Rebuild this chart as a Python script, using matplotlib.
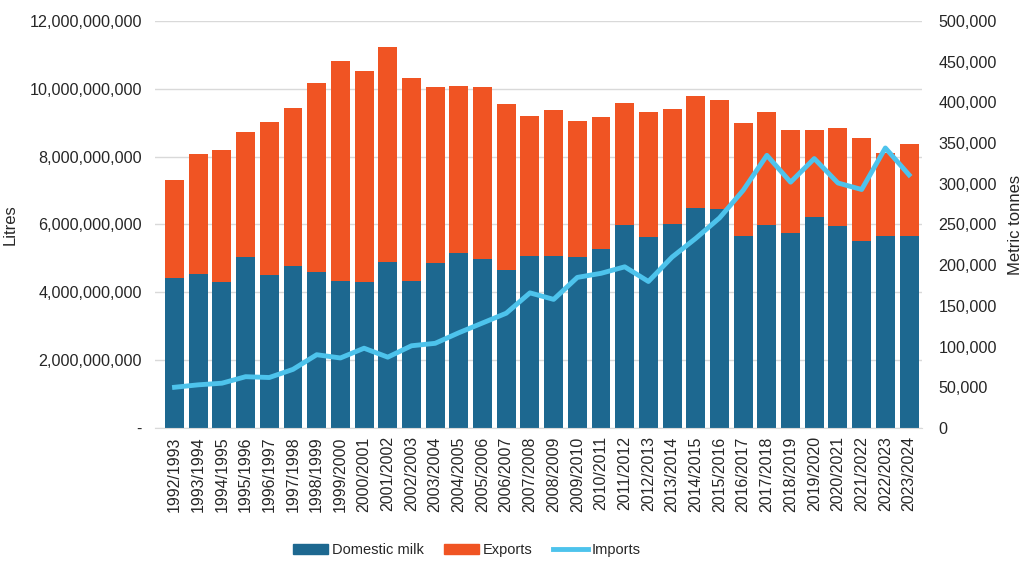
import matplotlib
matplotlib.use("Agg")
import matplotlib.pyplot as plt
from matplotlib.ticker import FuncFormatter
from matplotlib.patches import Patch
from matplotlib.lines import Line2D

plt.rcParams['font.family'] = ['Liberation Sans', 'DejaVu Sans']

# seasons
seasons = [f"{y}/{y + 1}" for y in range(1992, 2024)]

# litres (bars, left axis)
domestic = [4.42e9, 4.54e9, 4.31e9, 5.04e9, 4.51e9, 4.78e9, 4.60e9, 4.34e9,
            4.31e9, 4.90e9, 4.34e9, 4.87e9, 5.16e9, 4.99e9, 4.66e9, 5.07e9,
            5.07e9, 5.04e9, 5.28e9, 5.99e9, 5.63e9, 6.02e9, 6.49e9, 6.46e9,
            5.66e9, 5.99e9, 5.75e9, 6.22e9, 5.96e9, 5.50e9, 5.66e9, 5.66e9]
total = [7.32e9, 8.08e9, 8.20e9, 8.73e9, 9.03e9, 9.44e9, 10.17e9, 10.83e9,
         10.53e9, 11.24e9, 10.32e9, 10.06e9, 10.09e9, 10.06e9, 9.56e9, 9.20e9,
         9.38e9, 9.06e9, 9.17e9, 9.59e9, 9.32e9, 9.41e9, 9.79e9, 9.68e9,
         9.00e9, 9.32e9, 8.80e9, 8.80e9, 8.86e9, 8.55e9, 8.12e9, 8.37e9]
exports = [t - d for t, d in zip(total, domestic)]

# metric tonnes (line, right axis)
imports = [50000, 53000, 55000, 63000, 62000, 72000, 90000, 86000,
           98000, 87000, 101000, 104000, 117000, 129000, 141000, 166000,
           158000, 185000, 190000, 198000, 180000, 210000, 233000, 258000,
           292000, 335000, 302000, 331000, 301000, 293000, 344000, 311000]

c_dom = '#1D6890'
c_exp = '#F05423'
c_imp = '#4DC3EC'
grid_c = '#D9D9D9'
txt_c = '#262626'

fig = plt.figure(figsize=(10.24, 5.76), dpi=100)
ax = fig.add_axes([0.151, 0.257, 0.749, 0.7065])

x = list(range(len(seasons)))
ax.bar(x, domestic, width=0.8, color=c_dom, zorder=2)
ax.bar(x, exports, width=0.8, bottom=domestic, color=c_exp, zorder=2)

ax.set_ylim(0, 12e9)
ax.set_yticks([i * 2e9 for i in range(7)])
ax.yaxis.set_major_formatter(FuncFormatter(lambda v, p: '-' if v == 0 else f'{v:,.0f}'))
ax.set_xlim(-0.84, 31.53)
ax.set_xticks(x)
ax.set_xticklabels(seasons, rotation=90)
ax.grid(axis='y', color=grid_c, lw=1, zorder=0)
for s in ['top', 'right', 'left']:
    ax.spines[s].set_visible(False)
ax.spines['bottom'].set_color(grid_c)
ax.tick_params(axis='y', length=0, pad=9, labelsize=11.6, colors=txt_c)
ax.tick_params(axis='x', length=0, pad=6, labelsize=11.5, colors=txt_c)
ax.set_ylabel('Litres', fontsize=12, color=txt_c)
ax.yaxis.set_label_coords(-0.178, 0.5)

ax2 = ax.twinx()
ax2.plot(x, imports, color=c_imp, lw=3.5, solid_joinstyle='round', zorder=3)
ax2.set_ylim(0, 500000)
ax2.set_yticks([i * 50000 for i in range(11)])
ax2.yaxis.set_major_formatter(FuncFormatter(lambda v, p: f'{v:,.0f}'))
for s in ['top', 'right', 'left', 'bottom']:
    ax2.spines[s].set_visible(False)
ax2.tick_params(axis='y', length=0, pad=12, labelsize=11.6, colors=txt_c)
ax2.set_ylabel('Metric tonnes', fontsize=12, color=txt_c, labelpad=8)

handles = [Patch(color=c_dom), Patch(color=c_exp), Line2D([0], [0], color=c_imp, lw=3.5)]
fig.legend(handles, ['Domestic milk', 'Exports', 'Imports'], loc='lower center',
           bbox_to_anchor=(0.456, 0.01), ncol=3, frameon=False, fontsize=10.5,
           handlelength=2.4, handleheight=0.7, columnspacing=1.4, handletextpad=0.25,
           labelcolor=txt_c)

fig.savefig('out.png', dpi=100)
